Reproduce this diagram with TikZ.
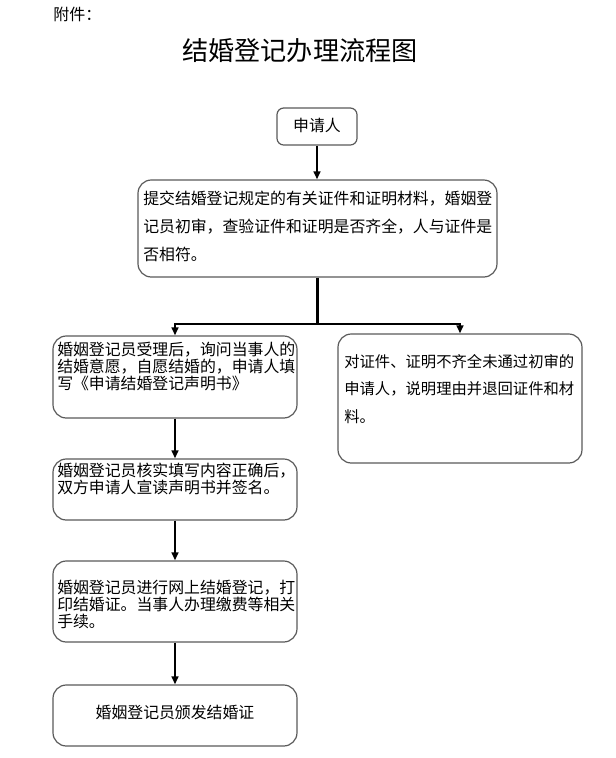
\documentclass[tikz,border=0pt]{standalone}
\usepackage{fontspec}
\setmainfont{Noto Sans CJK SC}
\usetikzlibrary{arrows.meta}
\definecolor{boxgray}{HTML}{5A5A5A}
\begin{document}
\begin{tikzpicture}[x=0.75pt,y=-0.75pt,
  box/.style={draw=boxgray, line width=0.9pt, rounded corners=10pt, inner sep=0pt},
  conn/.style={line width=1.7pt, -{Triangle[length=6pt,width=5pt]}},
  link/.style={line width=1.7pt},
  txt/.style={inner sep=0pt, anchor=north west, align=left},
  body/.style={font=\fontsize{11.9}{12.7}\selectfont}
]
\fill[white] (0,0) rectangle (615,758);
\useasboundingbox (0,0) rectangle (615,758);

% header and title
\node[inner sep=0pt, anchor=west, font=\fontsize{12}{14}\selectfont] (att) at (53,14) {附件：};
\node[inner sep=0pt, font=\fontsize{19.6}{22}\selectfont] (title) at (300,51) {结婚登记办理流程图};

% boxes
\node[box, rounded corners=5pt, minimum width={80*0.75pt}, minimum height={37*0.75pt}] (b1) at (317,126.5) {};
\node[box, minimum width={359*0.75pt}, minimum height={97*0.75pt}] (b2) at (317.5,228.5) {};
\node[box, minimum width={244*0.75pt}, minimum height={82*0.75pt}] (b3) at (175,377) {};
\node[box, minimum width={244*0.75pt}, minimum height={129*0.75pt}] (bR) at (460,398.5) {};
\node[box, minimum width={244*0.75pt}, minimum height={61*0.75pt}] (b4) at (175,489.5) {};
\node[box, minimum width={244*0.75pt}, minimum height={81*0.75pt}] (b5) at (175,601.5) {};
\node[box, minimum width={244*0.75pt}, minimum height={61*0.75pt}] (b6) at (175,715.5) {};

% texts
\node[inner sep=0pt, body] (t1) at (317,125) {申请人};
\node[txt, font=\fontsize{11.9}{21.2}\selectfont] (t2) at (143,190.3)
  {提交结婚登记规定的有关证件和证明材料，婚姻登\\记员初审，查验证件和证明是否齐全，人与证件是\\否相符。};
\node[txt, body] (t3) at (57,341.7)
  {婚姻登记员受理后，询问当事人的\\结婚意愿，自愿结婚的，申请人填\\写《申请结婚登记声明书》};
\node[txt, font=\fontsize{11.5}{20.6}\selectfont] (tR) at (344,354)
  {对证件、证明不齐全未通过初审的\\申请人，说明理由并退回证件和材\\料。};
\node[txt, body] (t4) at (57,462.7)
  {婚姻登记员核实填写内容正确后，\\双方申请人宣读声明书并签名。};
\node[txt, body] (t5) at (57,580)
  {婚姻登记员进行网上结婚登记，打\\印结婚证。当事人办理缴费等相关\\手续。};
\node[inner sep=0pt, body] (t6) at (175,712) {婚姻登记员颁发结婚证};

% connectors
\coordinate (j) at (317.5,324);
\draw[conn] (b1.south) -- (b1.south |- b2.north);
\draw[link] (b2.south) -- (j);
\draw[conn] (j) -| (b3.north);
\draw[conn] (j) -| (bR.north);
\draw[conn] (b3.south) -- (b4.north);
\draw[conn] (b4.south) -- (b5.north);
\draw[conn] (b5.south) -- (b6.north);
\end{tikzpicture}
\end{document}
